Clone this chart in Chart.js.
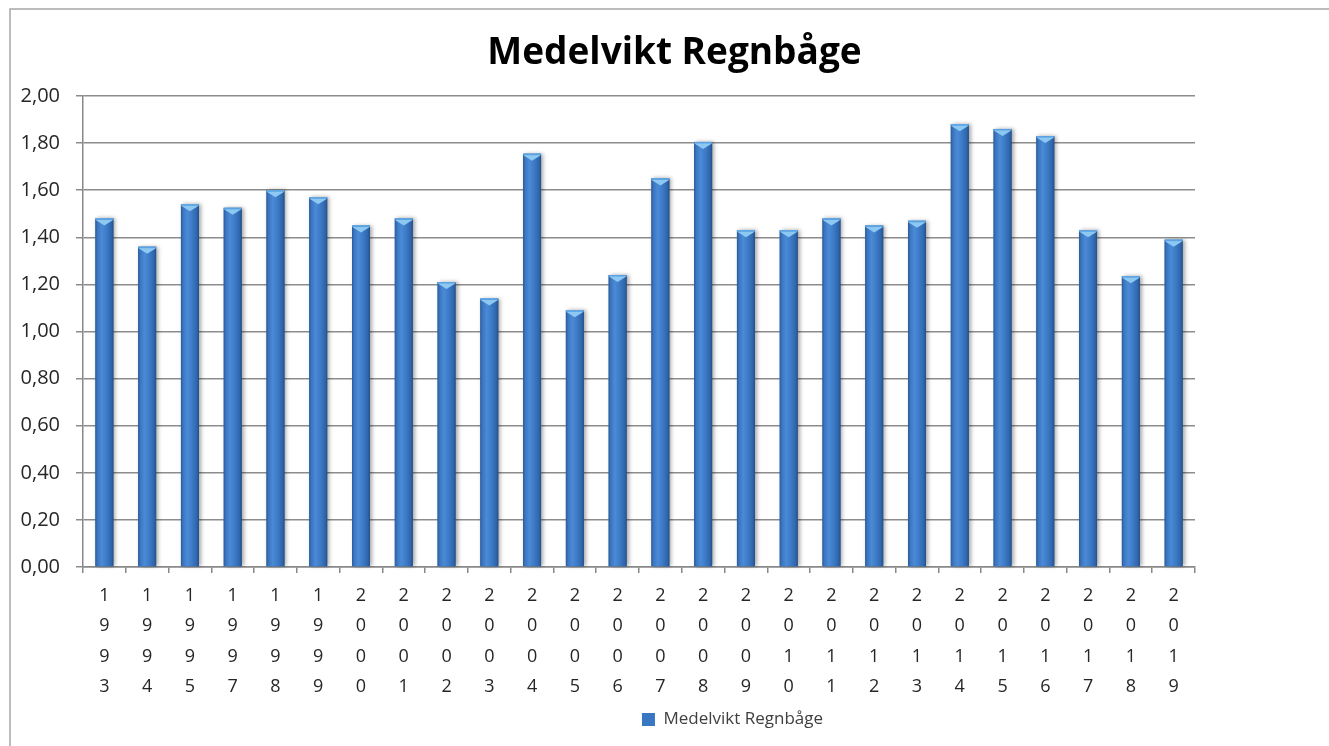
<!DOCTYPE html>
<html>
<head>
<meta charset="utf-8">
<script src="https://cdn.jsdelivr.net/npm/chart.js@4"></script>
<style>
  html, body { margin: 0; padding: 0; background: #fff; }
  #wrap { width: 1329px; height: 746px; position: relative; }
</style>
</head>
<body>
<div id="wrap"><canvas id="c" width="1329" height="746"></canvas></div>
<script>
const years = ['1993','1994','1995','1997','1998','1999','2000','2001','2002','2003','2004','2005','2006','2007','2008','2009','2010','2011','2012','2013','2014','2015','2016','2017','2018','2019'];
const medelvikt = [1.48,1.36,1.54,1.525,1.60,1.57,1.45,1.48,1.21,1.14,1.755,1.09,1.24,1.65,1.805,1.43,1.43,1.48,1.45,1.47,1.88,1.86,1.83,1.43,1.235,1.39];
const yTicks = { min: 0, max: 2, step: 0.2 };
const seriesName = 'Medelvikt Regnbåge';
const titleText = 'Medelvikt Regnbåge';

const labels = years.map(y => y.split(''));

const borderPlugin = {
  id: 'outerBorder',
  beforeDraw(chart) {
    const ctx = chart.ctx;
    ctx.save();
    ctx.fillStyle = '#ffffff';
    ctx.fillRect(0, 0, chart.width, chart.height);
    ctx.strokeStyle = '#a6a6a6';
    ctx.lineWidth = 1.5;
    ctx.strokeRect(10, 9, chart.width + 20, chart.height + 20);
    ctx.restore();
  }
};

const boxShift = {
  id: 'boxShift',
  afterLayout(chart) {
    const lg = chart.legend;
    if (lg) {
      const dx = 130, dy = -4;
      lg.left += dx; lg.right += dx;
      lg.top += dy; lg.bottom += dy;
    }
    const tb = chart.titleBlock;
    if (tb) {
      const dx = 72, dy = 6;
      tb.left += dx; tb.right += dx;
      tb.top += dy; tb.bottom += dy;
    }
  }
};

const barStyle = {
  id: 'barStyle',
  afterDatasetsDraw(chart) {
    const ctx = chart.ctx;
    const meta = chart.getDatasetMeta(0);
    ctx.save();
    meta.data.forEach(el => {
      const w = el.width, x0 = el.x - w / 2, x1 = el.x + w / 2;
      const top = el.y, base = el.base;
      ctx.save();
      ctx.shadowColor = 'rgba(0,0,0,0.35)';
      ctx.shadowBlur = 4;
      ctx.shadowOffsetX = 2;
      ctx.shadowOffsetY = 0;
      const g = ctx.createLinearGradient(x0, 0, x1, 0);
      g.addColorStop(0, '#2a5a98');
      g.addColorStop(0.12, '#3b76c0');
      g.addColorStop(0.35, '#4b8ad6');
      g.addColorStop(0.6, '#3e7cc8');
      g.addColorStop(0.88, '#2f66ad');
      g.addColorStop(1, '#244f88');
      ctx.fillStyle = g;
      ctx.fillRect(x0, top, w, base - top);
      ctx.restore();
      ctx.fillStyle = '#8cc8f2';
      ctx.beginPath();
      ctx.moveTo(x0, top);
      ctx.lineTo(x1, top);
      ctx.lineTo(x1 - 1, top + 2);
      ctx.lineTo(el.x, top + 7);
      ctx.lineTo(x0 + 1, top + 2);
      ctx.closePath();
      ctx.fill();
      ctx.fillStyle = '#5aa2e2';
      ctx.fillRect(x0, top, w, 1.5);
    });
    ctx.restore();
  }
};

new Chart(document.getElementById('c'), {
  type: 'bar',
  data: {
    labels: labels,
    datasets: [{
      label: seriesName,
      data: medelvikt,
      backgroundColor: '#3a77c2',
      borderWidth: 0,
      categoryPercentage: 1.0,
      barPercentage: 0.42
    }]
  },
  options: {
    responsive: false,
    animation: false,
    layout: { padding: { left: 10, right: 134, top: 0, bottom: 4 } },
    plugins: {
      title: {
        display: true,
        text: titleText,
        color: '#000000',
        font: { family: 'Open Sans', size: 37, weight: 'bold' },
        padding: { top: 25, bottom: 26.6 }
      },
      legend: {
        display: true,
        position: 'bottom',
        labels: {
          color: '#404040',
          font: { family: 'Open Sans', size: 17 },
          boxWidth: 13,
          boxHeight: 13,
          padding: 8
        }
      },
      tooltip: { enabled: false }
    },
    scales: {
      x: {
        afterFit(scale) { scale.height = 140; },
        grid: {
          display: true,
          drawOnChartArea: false,
          drawTicks: true,
          tickLength: 6,
          color: '#888888',
          lineWidth: 1.5,
          offset: true
        },
        border: { display: true, color: '#888888', width: 1.5 },
        ticks: {
          color: '#262626',
          font: { family: 'Open Sans', size: 18, lineHeight: 1.68 },
          padding: 8,
          maxRotation: 0,
          autoSkip: false
        }
      },
      y: {
        min: yTicks.min,
        max: yTicks.max,
        afterFit(scale) { scale.width = 73; },
        grid: {
          color: '#8c8c8c',
          lineWidth: 1.5,
          drawTicks: true,
          tickLength: 7
        },
        border: { display: true, color: '#888888', width: 1.5 },
        ticks: {
          stepSize: yTicks.step,
          color: '#262626',
          font: { family: 'Open Sans', size: 20 },
          padding: 16,
          callback: v => v.toFixed(2).replace('.', ',')
        }
      }
    }
  },
  plugins: [borderPlugin, boxShift, barStyle]
});
</script>
</body>
</html>
